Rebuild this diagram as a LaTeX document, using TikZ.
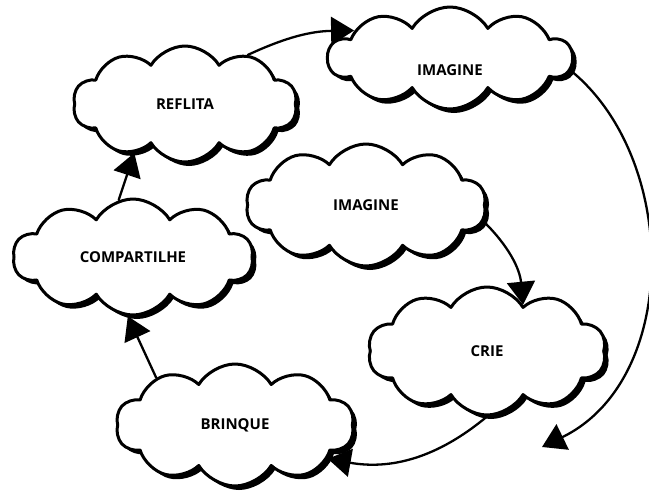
\documentclass[tikz,border=0pt]{standalone}
\usepackage{fontspec}
\setmainfont{Open Sans}
\usetikzlibrary{arrows.meta,shapes.symbols,shadows}

\begin{document}
\begin{tikzpicture}[x=1pt,y=-1pt,>={Triangle[length=23pt,width=28pt]},line cap=round,line join=round,
 idea/.style={cloud,cloud puffs=10,cloud puff arc=118,cloud ignores aspect,
  draw,line width=3pt,fill=white,inner sep=0pt,
  drop shadow={shadow xshift=4pt,shadow yshift=-4pt,fill=black,opacity=1},
  font=\fontsize{15}{17}\selectfont\bfseries},
 flow/.style={->,line width=2.3pt}]
 \useasboundingbox (0,0) rectangle (649,493);
 % the six clouds
 \node[idea,minimum width=224pt,minimum height=116pt] (reflita) at (185,104) {REFLITA};
 \node[idea,minimum width=244pt,minimum height=102pt,text height=36pt] (imagineA) at (450,58) {IMAGINE};
 \node[idea,minimum width=240pt,minimum height=116pt] (compartilhe) at (133,257) {COMPARTILHE};
 \node[idea,minimum width=240pt,minimum height=122pt] (imagineB) at (366,205) {IMAGINE};
 \node[idea,minimum width=238pt,minimum height=128pt] (crie) at (487,351) {CRIE};
 \node[idea,minimum width=238pt,minimum height=122pt] (brinque) at (235,425) {BRINQUE};
 \coordinate (loopend) at (542,447);
 % the cycle
 \draw[flow] (reflita.38) to[bend left=12] (imagineA.164);
 \draw[flow] (imagineA.-6) .. controls (680,160) and (680,380) .. (loopend);
 \draw[flow] (imagineB.-8) to[bend left=20] (crie.52);
 \draw[flow] (crie.-90) to[bend left=25] (brinque.-20);
 \draw[flow] (brinque.149) -- (compartilhe.-95);
 \draw[flow] (compartilhe.104) -- (reflita.-136);
\end{tikzpicture}
\end{document}
